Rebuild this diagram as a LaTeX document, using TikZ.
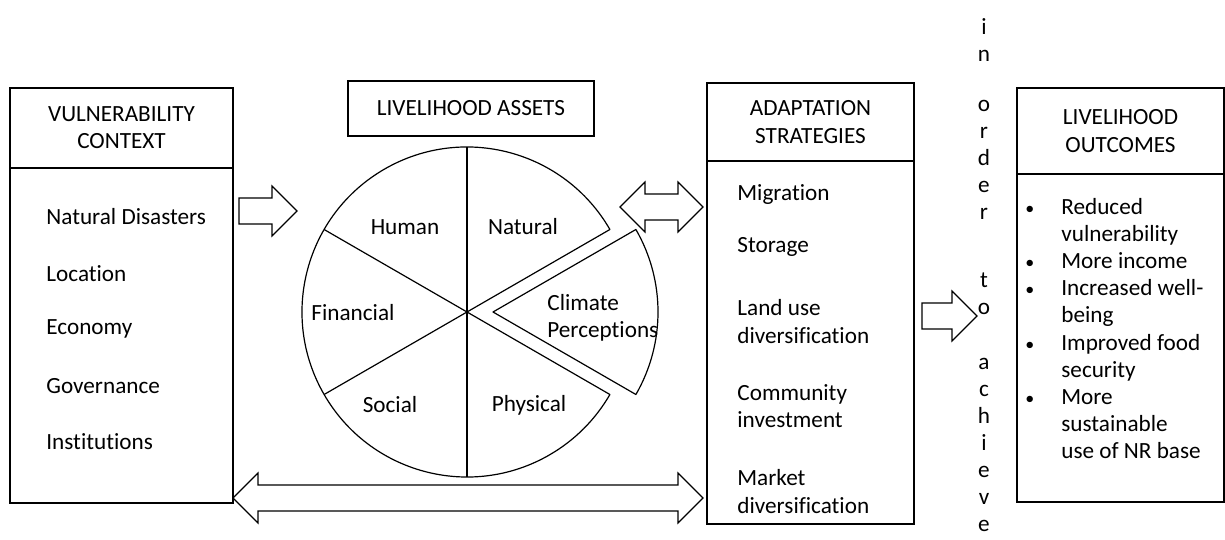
\documentclass[tikz,border=0pt]{standalone}
\usepackage{fontspec}
\setmainfont{Carlito}[Ligatures=NoCommon]
\usepackage{tikz}
\usetikzlibrary{calc}

% hollow block arrow, tail #1 to tip #2 (horizontal)
\newcommand{\fatarrow}[2]{%
  \draw[blockarrow] ($(#1)+(0,13)$) -- ($(#2)+(-25,13)$) -- ($(#2)+(-25,25)$) -- (#2)
    -- ($(#2)+(-25,-25)$) -- ($(#2)+(-25,-13)$) -- ($(#1)+(0,-13)$) -- cycle;}
% same with a head on both ends
\newcommand{\fatdarrow}[2]{%
  \draw[blockarrow] (#1) -- ($(#1)+(25,25)$) -- ($(#1)+(25,13)$) -- ($(#2)+(-25,13)$)
    -- ($(#2)+(-25,25)$) -- (#2) -- ($(#2)+(-25,-25)$) -- ($(#2)+(-25,-13)$)
    -- ($(#1)+(25,-13)$) -- ($(#1)+(25,-25)$) -- cycle;}
\newcommand{\dotbullet}{{\fontsize{9}{9}\selectfont\textbullet}}

\begin{document}
\begin{tikzpicture}[x=0.5pt,y=0.5pt,
  font=\fontsize{11.6}{13.6}\selectfont,
  box/.style={draw,line width=0.6pt,inner sep=0pt,align=center},
  item/.style={anchor=west,inner sep=0pt,align=left},
  vert/.style={inner sep=0pt,align=center,font=\fontsize{11.6}{13.5}\selectfont},
  pie/.style={line width=0.6pt,line join=round},
  blockarrow/.style={line width=0.6pt,fill=white}]
  \useasboundingbox (0,0) rectangle (1225,540);

  % vulnerability context
  \node[box,minimum width=111.5pt,minimum height=40pt] (vchead) at (121.5,412) {VULNERABILITY\\CONTEXT};
  \node[box,minimum width=111.5pt,minimum height=167.5pt] (vcbody) at (121.5,204.5) {};
  \foreach \txt [count=\i from 0] in {Natural Disasters,Location,Economy,Governance,Institutions}
    \node[item] (vc\i) at (46,{323-56.2*\i}) {\txt};

  % livelihood assets
  \node[box,minimum width=123pt,minimum height=27.5pt] (lahead) at (471,431.5) {LIVELIHOOD ASSETS};
  \coordinate (pc) at (467,228);
  \coordinate (cc) at (493,228);
  \draw[pie] (pc) -- ++(30:165) arc[start angle=30,end angle=330,radius=165] -- cycle;
  \foreach \a in {90,150,210,270}
    \draw[pie] (pc) -- ++(\a:165);
  \draw[pie] (cc) -- ++(30:165) arc[start angle=30,end angle=-30,radius=165] -- cycle;
  \node (human) at (405,313) {Human};
  \node (natural) at (523,313) {Natural};
  \node (financial) at (353,227) {Financial};
  \node (social) at (390,135) {Social};
  \node (physical) at (529,135) {Physical};
  \node[item] (climate) at (547,222.5) {Climate\\Perceptions};

  % adaptation strategies
  \node[box,minimum width=103.5pt,minimum height=39pt] (ashead) at (810.5,418) {ADAPTATION\\STRATEGIES};
  \node[box,minimum width=103.5pt,minimum height=181.5pt] (asbody) at (810.5,197.5) {};
  \node[item] (as1) at (737,345) {Migration};
  \node[item] (as2) at (737,293) {Storage};
  \node[item] (as3) at (737,218.5) {Land use\\diversification};
  \node[item] (as4) at (737,133.5) {Community\\investment};
  \node[item] (as5) at (737,48.5) {Market\\diversification};

  % livelihood outcomes
  \node[box,minimum width=103.5pt,minimum height=43pt] (lohead) at (1120.5,409) {LIVELIHOOD\\OUTCOMES};
  \node[box,minimum width=103.5pt,minimum height=164pt] (lobody) at (1120.5,202) {};
  \node[item] (lo) at (1025,209) {\begin{tabular}{@{}l@{\hspace{13.5pt}}l@{}}
    \dotbullet & Reduced\\ & vulnerability\\
    \dotbullet & More income\\
    \dotbullet & Increased well-\\ & being\\
    \dotbullet & Improved food\\ & security\\
    \dotbullet & More\\ & sustainable\\ & use of NR base
  \end{tabular}};

  % in order to achieve
  \node[vert] (w1) at (984,500) {i\\n};
  \node[vert] (w2) at (984,380) {o\\r\\d\\e\\r};
  \node[vert] (w3) at (984,246.5) {t\\o};
  \node[vert] (w4) at (984,95) {a\\c\\h\\i\\e\\v\\e};

  % block arrows
  \coordinate (a1) at (239,329);
  \coordinate (a2) at (297,329);
  \coordinate (b1) at (620,333);
  \coordinate (b2) at (703,333);
  \coordinate (c1) at (233,42);
  \coordinate (c2) at (703,42);
  \coordinate (d1) at (922,224);
  \coordinate (d2) at (977,224);
  \fatarrow{a1}{a2}
  \fatdarrow{b1}{b2}
  \fatdarrow{c1}{c2}
  \fatarrow{d1}{d2}
\end{tikzpicture}
\end{document}
